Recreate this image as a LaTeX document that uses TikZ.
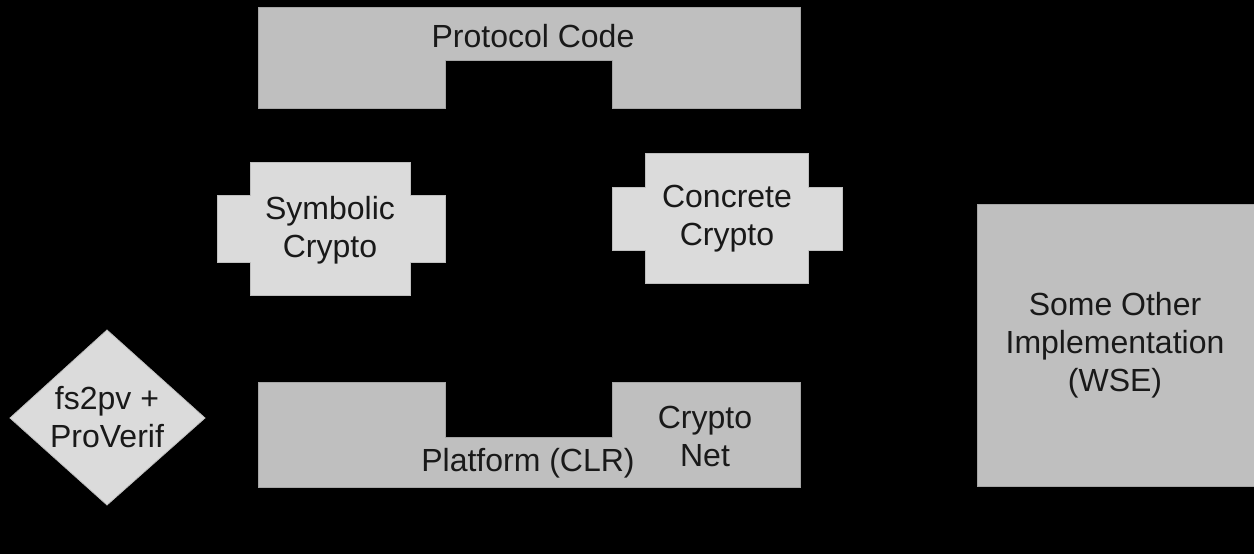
\documentclass[tikz,border=0pt]{standalone}
\usepackage{fontspec}
\setmainfont{Liberation Sans}
\begin{document}
\begin{tikzpicture}[x=1pt,y=-1pt,
  silver/.style={fill=black!25, draw=black!35, line width=0.8pt},
  light/.style={fill=black!14, draw=black!25, line width=0.8pt},
  lbl/.style={align=center, inner sep=0pt, font=\fontsize{32}{38}\selectfont, text=black!90}]
  % background
  \fill[black] (0,0) rectangle (1254,554);
  \useasboundingbox (0,0) rectangle (1254,554);

  % Protocol Code (notched at the bottom)
  \draw[silver] (258,7) -- (800,7) -- (800,108) -- (612,108) -- (612,60)
    -- (445,60) -- (445,108) -- (258,108) -- cycle;
  \node[lbl] (proto) at (533,36) {Protocol Code};

  % Symbolic Crypto
  \draw[light] (250,162) -- (410,162) -- (410,195) -- (445,195) -- (445,262)
    -- (410,262) -- (410,295) -- (250,295) -- (250,262) -- (217,262)
    -- (217,195) -- (250,195) -- cycle;
  \node[lbl] (sym) at (330,230) {Symbolic\\Crypto};

  % Concrete Crypto
  \draw[light] (645,153) -- (808,153) -- (808,187) -- (842,187) -- (842,250)
    -- (808,250) -- (808,283) -- (645,283) -- (645,250) -- (612,250)
    -- (612,187) -- (645,187) -- cycle;
  \node[lbl] (conc) at (727,219) {Concrete\\Crypto};

  % fs2pv + ProVerif
  \draw[light] (107,330) -- (205,418) -- (107,505) -- (10,418) -- cycle;
  \node[lbl] (pv) at (107,417) {fs2pv +\\ProVerif};

  % Platform (notched at the top)
  \draw[silver] (258,382) -- (445,382) -- (445,437) -- (612,437) -- (612,382)
    -- (800,382) -- (800,487) -- (258,487) -- cycle;
  \node[lbl] (clr) at (528,463) {Platform (CLR)};
  \node[lbl] (net) at (705,436) {Crypto\\Net};

  % Some Other Implementation, running off the right edge
  \draw[silver] (977,204) rectangle (1260,486);
  \node[lbl] (wse) at (1115,345) {Some Other\\Implementation\\(WSE)};
\end{tikzpicture}
\end{document}
